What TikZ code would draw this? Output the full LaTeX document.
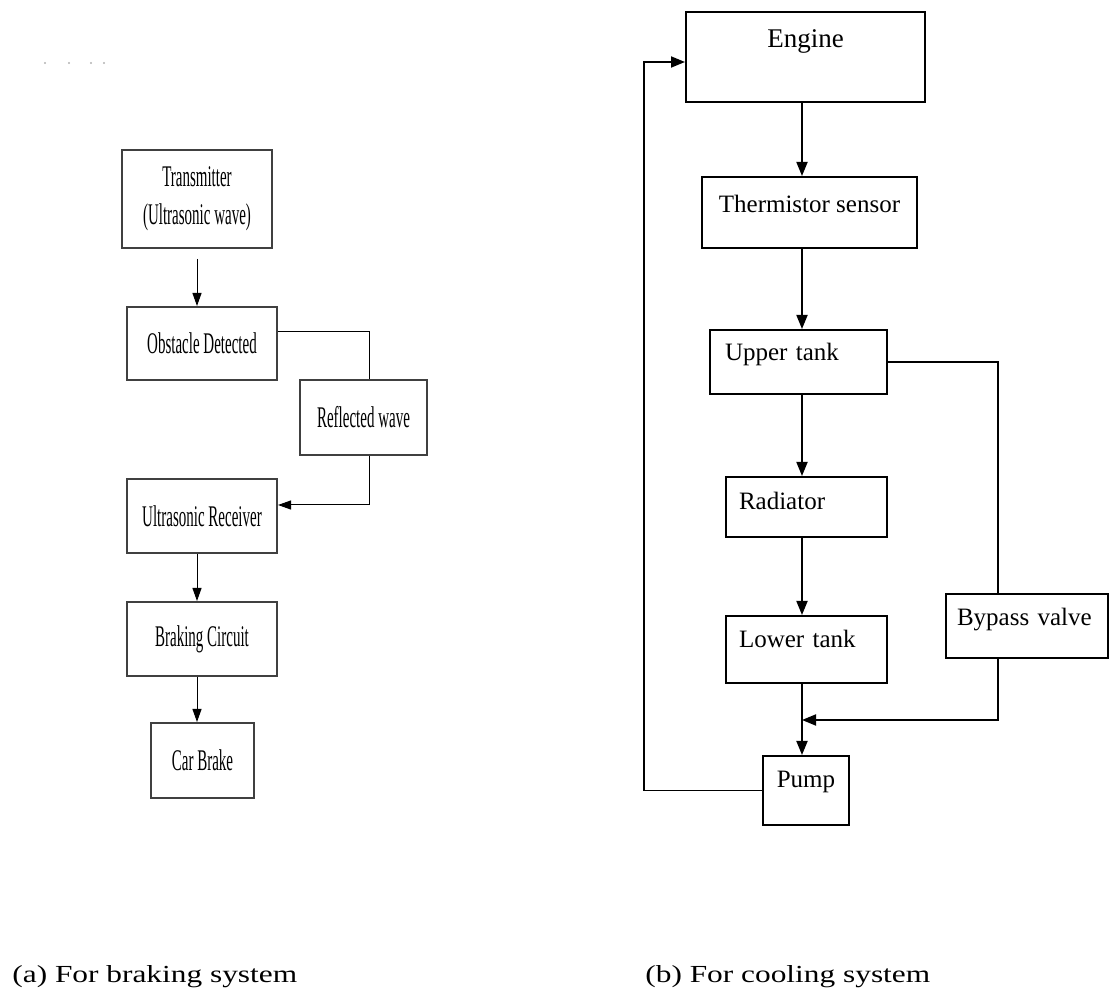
\documentclass[tikz,border=0pt]{standalone}
\usepackage{fontspec}
\setmainfont{Liberation Serif}
\newfontfamily\narrowserif[FakeStretch=0.5]{Liberation Serif}
\newfontfamily\wideserif[FakeStretch=1.28]{Liberation Serif}
\usetikzlibrary{arrows.meta}

\newlength{\du}
\setlength{\du}{0.5pt}

\tikzset{
  bbox/.style={draw=black!75, line width=1pt, align=center,
    font=\narrowserif\fontsize{15}{19}\selectfont},
  cbox/.style={draw, line width=1pt, inner ysep=0pt,
    font=\fontsize{12.5}{15}\selectfont},
  bline/.style={line width=0.5pt},
  barrow/.style={bline, -{Triangle[length=6.5pt,width=4.5pt]}},
  cline/.style={line width=0.9pt},
  carrow/.style={cline, -{Triangle[length=7pt,width=5.5pt]}},
  subcap/.style={anchor=base west, inner sep=0pt,
    font=\wideserif\fontsize{12.25}{15}\selectfont}
}

\begin{document}
\begin{tikzpicture}
\pgftransformxscale{1.000000}
\pgftransformyscale{-1.000000}
\useasboundingbox (0\du,0\du) rectangle (1110\du,989\du);
% stray marks top left
\foreach \mx in {45,69,91,104}
  \fill[black!30] (\mx\du,63\du) circle (1.2\du);
% (a) braking system
\node[bbox, minimum width=150\du, minimum height=98\du] (trans) at (197\du,199\du) {Transmitter\\(Ultrasonic wave)};
\node[bbox, minimum width=150\du, minimum height=73\du] (obst) at (202\du,343.5\du) {Obstacle Detected};
\node[bbox, minimum width=127\du, minimum height=75\du] (refl) at (363.5\du,417.5\du) {Reflected wave};
\node[bbox, minimum width=150\du, minimum height=74\du] (recv) at (202\du,516\du) {Ultrasonic Receiver};
\node[bbox, minimum width=150\du, minimum height=74\du] (brake) at (202\du,639\du) {Braking Circuit};
\node[bbox, minimum width=103\du, minimum height=75\du] (car) at (202.5\du,760.5\du) {Car Brake};
\coordinate (lx) at (197\du,0\du);
\coordinate (oc) at (369\du,332\du);
\coordinate (rc) at (369\du,505\du);
\draw[barrow, shorten <=10\du] (trans.south) -- (trans.south |- obst.north);
\draw[bline] (obst.east |- oc) -| (refl.north -| oc);
\draw[barrow] (refl.south -| oc) |- (recv.east |- rc);
\draw[barrow] (recv.south -| lx) -- (brake.north -| lx);
\draw[barrow] (brake.south -| lx) -- (car.north -| lx);
% (b) cooling system
\node[cbox, minimum width=239\du, text height=36\du, text depth=54\du, font=\fontsize{13.5}{16}\selectfont] (engine) at (805.5\du,57\du) {Engine};
\node[cbox, minimum width=215\du, text height=36\du, text depth=35\du] (thermo) at (809.5\du,212.5\du) {Thermistor sensor};
\node[cbox, text width=147\du, align=left, inner xsep=15\du, text height=31\du, text depth=33\du] (upper) at (798.5\du,362\du) {Upper tank};
\node[cbox, text width=135\du, align=left, inner xsep=13\du, text height=33\du, text depth=27\du] (rad) at (806.5\du,507\du) {Radiator};
\node[cbox, text width=135\du, align=left, inner xsep=13\du, text height=32\du, text depth=35\du] (lower) at (806.5\du,649.5\du) {Lower tank};
\node[cbox, text width=140\du, align=left, inner xsep=11\du, text height=32\du, text depth=32\du] (bypass) at (1027\du,626\du) {Bypass valve};
\node[cbox, minimum width=86\du, text height=32\du, text depth=37\du] (pump) at (806\du,790.5\du) {Pump};
\coordinate (rs) at (802\du,0\du);
\coordinate (bx) at (998\du,0\du);
\coordinate (join) at (802\du,720\du);
\coordinate (lp) at (644\du,62\du);
\draw[carrow] (engine.south -| rs) -- (thermo.north -| rs);
\draw[carrow] (thermo.south -| rs) -- (upper.north -| rs);
\draw[carrow] (upper.south -| rs) -- (rad.north -| rs);
\draw[carrow] (rad.south -| rs) -- (lower.north -| rs);
\draw[carrow] (lower.south -| rs) -- (pump.north -| rs);
\draw[cline] (upper.east) -| (bypass.north -| bx);
\draw[carrow] (bypass.south -| bx) |- (join);
\draw[carrow] (pump.west) -| (lp) -- (lp -| engine.west);
% captions
\node[subcap] (capa) at (12\du,982\du) {(a) For braking system};
\node[subcap] (capb) at (645\du,982\du) {(b) For cooling system};
\end{tikzpicture}
\end{document}
